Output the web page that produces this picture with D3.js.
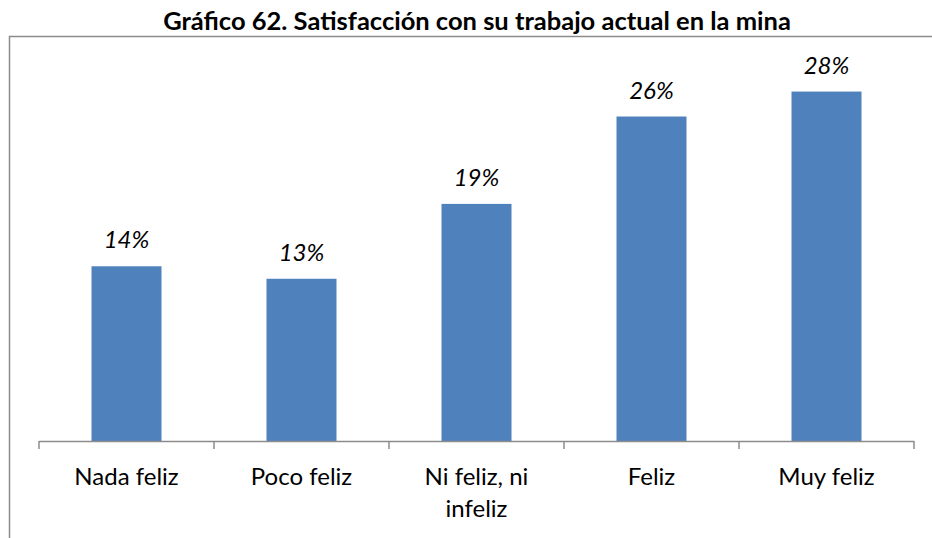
<!DOCTYPE html>
<html>
<head>
<meta charset="utf-8">
<script src="https://cdn.jsdelivr.net/npm/d3@7"></script>
<style>
  html, body { margin: 0; padding: 0; background: #ffffff; }
  svg { display: block; }
  text { font-family: Lato, "Open Sans", sans-serif; fill: #000; }
</style>
</head>
<body>
<svg id="chart" width="932" height="538"></svg>
<script>
// Data
const title = "Gráfico 62. Satisfacción con su trabajo actual en la mina";
const categories = ["Nada feliz", "Poco feliz", "Ni feliz, ni infeliz", "Feliz", "Muy feliz"];
const categoryLines = [["Nada feliz"], ["Poco feliz"], ["Ni feliz, ni", "infeliz"], ["Feliz"], ["Muy feliz"]];
const values = [14, 13, 19, 26, 28];
const valueLabels = ["14%", "13%", "19%", "26%", "28%"];

const W = 932, H = 538;
const margin = { left: 39, right: 18, baseline: 441 };
const svg = d3.select("#chart");

// Outer frame (top and left edges)
svg.append("path")
  .attr("d", `M9.5,${H} L9.5,36.5 L${W},36.5`)
  .attr("fill", "none")
  .attr("stroke", "#8c8c8c")
  .attr("stroke-width", 1.5);

// Title
svg.append("text")
  .attr("x", 477)
  .attr("y", 30)
  .attr("text-anchor", "middle")
  .style("font-size", "25.5px")
  .style("font-weight", "bold")
  .text(title);

// Scales
const x = d3.scaleBand()
  .domain(categories)
  .range([margin.left, W - margin.right])
  .paddingInner(0.6)
  .paddingOuter(0.3);

const y = d3.scaleLinear()
  .domain([0, 30])
  .range([margin.baseline, margin.baseline - 30 * 12.48]);

// Bars
svg.append("g")
  .selectAll("rect")
  .data(values)
  .join("rect")
  .attr("x", (d, i) => x(categories[i]))
  .attr("y", d => y(d))
  .attr("width", x.bandwidth())
  .attr("height", d => y(0) - y(d))
  .attr("fill", "#4f81bd");

// Value labels
svg.append("g")
  .selectAll("text")
  .data(values)
  .join("text")
  .attr("x", (d, i) => x(categories[i]) + x.bandwidth() / 2)
  .attr("y", d => y(d) - 18)
  .attr("text-anchor", "middle")
  .style("font-size", "24px")
  .style("font-style", "italic")
  .text((d, i) => valueLabels[i]);

// Category axis with ticks at band boundaries
const axisG = svg.append("g").attr("transform", `translate(0,${margin.baseline})`);
axisG.append("line")
  .attr("x1", margin.left).attr("x2", W - margin.right)
  .attr("y1", 0.5).attr("y2", 0.5)
  .attr("stroke", "#8c8c8c").attr("stroke-width", 1.5);

const step = x.step();
const boundaries = d3.range(categories.length + 1).map(i => x(categories[0]) - x.paddingOuter() * step + i * step);
axisG.selectAll("line.tick")
  .data(boundaries)
  .join("line")
  .attr("class", "tick")
  .attr("x1", d => d).attr("x2", d => d)
  .attr("y1", 0).attr("y2", 8)
  .attr("stroke", "#8c8c8c").attr("stroke-width", 1.5);

// Category labels
const lab = axisG.selectAll("text.cat")
  .data(categories)
  .join("text")
  .attr("class", "cat")
  .attr("x", d => x(d) + x.bandwidth() / 2)
  .attr("y", 44)
  .attr("text-anchor", "middle")
  .style("font-size", "24px");
lab.each(function(d, i) {
  const t = d3.select(this);
  categoryLines[i].forEach((line, k) => {
    t.append("tspan")
      .attr("x", x(d) + x.bandwidth() / 2)
      .attr("dy", k === 0 ? 0 : 32)
      .text(line);
  });
});
</script>
</body>
</html>
